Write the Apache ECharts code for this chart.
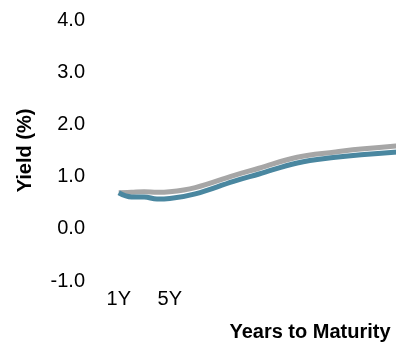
<!DOCTYPE html>
<html>
<head>
<meta charset="utf-8">
<script src="https://cdn.jsdelivr.net/npm/echarts@6/dist/echarts.min.js"></script>
<style>
html,body{margin:0;padding:0;overflow:hidden;background:#fff;width:396px;height:347px;}
#chart{width:520px;height:347px;}
</style>
</head>
<body>
<div id="chart"></div>
<script>
// Years to maturity
var years = [1, 2, 3, 4, 5, 7, 10, 12, 15, 18, 20, 25, 30];
// Gray curve (%)
var grayYield = [0.69, 0.70, 0.71, 0.70, 0.71, 0.79, 1.02, 1.16, 1.37, 1.47, 1.53, 1.62, 1.66];
// Teal curve (%)
var tealYield = [0.69, 0.61, 0.61, 0.57, 0.58, 0.67, 0.91, 1.05, 1.26, 1.37, 1.42, 1.50, 1.55];
// Tick labels
var tickYears = [1, 5];
var tickLabels = ['1Y', '5Y'];
var yTicks = [-1, 0, 1, 2, 3, 4];

function pairs(xs, ys) { return xs.map(function (x, i) { return [x, ys[i]]; }); }

var chart = echarts.init(document.getElementById('chart'), null, {renderer: 'canvas'});
chart.setOption({
  animation: false,
  backgroundColor: '#ffffff',
  grid: {left: 106, right: 6, top: 20, bottom: 66, containLabel: false},
  xAxis: {
    type: 'value', min: 0, max: 32, interval: 1,
    name: 'Years to Maturity', nameLocation: 'middle', nameGap: 41,
    nameTextStyle: {fontFamily: 'Liberation Sans, Arial', fontWeight: 'bold', fontSize: 20, color: '#000'},
    axisLine: {show: false}, axisTick: {show: false}, splitLine: {show: false},
    axisLabel: {
      margin: 8, fontFamily: 'Liberation Sans, Arial', fontSize: 20, color: '#000',
      formatter: function (v) { var k = tickYears.indexOf(v); return k >= 0 ? tickLabels[k] : ''; }
    }
  },
  yAxis: {
    type: 'value', min: yTicks[0], max: yTicks[yTicks.length - 1], interval: 1,
    name: 'Yield (%)', nameLocation: 'middle', nameGap: 71,
    nameTextStyle: {fontFamily: 'Liberation Sans, Arial', fontWeight: 'bold', fontSize: 20, color: '#000'},
    axisLine: {show: false}, axisTick: {show: false}, splitLine: {show: false},
    axisLabel: {margin: 21, fontFamily: 'Liberation Sans, Arial', fontSize: 20, color: '#000',
      formatter: function (v) { return v.toFixed(1); }}
  },
  series: [
    {type: 'line', data: pairs(years, grayYield), smooth: 0.4, showSymbol: false, z: 2,
     lineStyle: {color: '#a6a6a6', width: 5}},
    {type: 'line', data: pairs(years, tealYield), smooth: 0.4, showSymbol: false, z: 3,
     lineStyle: {color: '#4a87a0', width: 5}}
  ]
});
</script>
</body>
</html>
